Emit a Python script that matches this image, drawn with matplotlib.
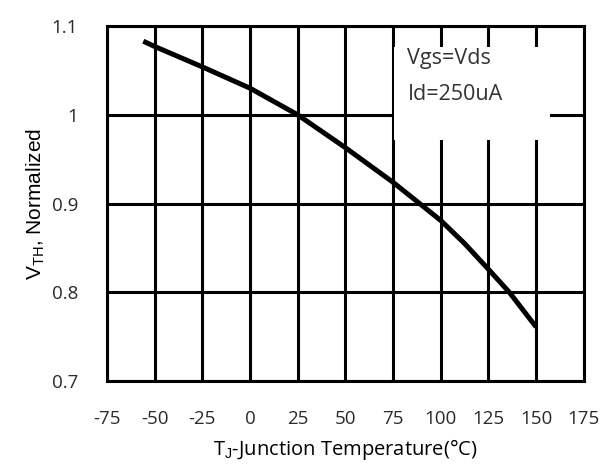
import matplotlib
matplotlib.use("Agg")
import matplotlib.pyplot as plt
from matplotlib.patches import Rectangle

# curve
temps = [-56, -50, -25, 0, 25, 50, 75, 100, 112.5, 125, 136, 150]
vth = [1.083, 1.077, 1.054, 1.030, 1.000, 0.963, 0.924, 0.881, 0.855, 0.826, 0.800, 0.761]

xticks = [-75, -50, -25, 0, 25, 50, 75, 100, 125, 150, 175]
yticks = [0.7, 0.8, 0.9, 1.0, 1.1]
ytick_labels = ["0.7", "0.8", "0.9", "1", "1.1"]

plt.rcParams['font.family'] = ['Open Sans', 'DejaVu Sans']
plt.rcParams['axes.unicode_minus'] = False
plt.rcParams['mathtext.fontset'] = 'custom'
plt.rcParams['mathtext.rm'] = 'Liberation Sans'

fig = plt.figure(figsize=(6.05, 4.66), dpi=100)
ax = fig.add_axes([0.177, 0.182, 0.788, 0.762])

ax.plot(temps, vth, color='black', lw=3.6, solid_capstyle='butt', zorder=4)

ax.set_xlim(-75, 175)
ax.set_ylim(0.7, 1.1)
ax.set_xticks(xticks)
ax.set_yticks(yticks)
ax.set_yticklabels(ytick_labels)
ax.tick_params(length=0, labelsize=13.5, colors='#2a2a2a')
ax.tick_params(axis='x', pad=21)
ax.tick_params(axis='y', pad=21)
ax.grid(True, color='black', lw=2.2, zorder=1)
ax.set_axisbelow(True)
for s in ax.spines.values():
    s.set_linewidth(2.2)
    s.set_zorder(2)

# white patch behind the annotation, it cuts the grid lines
ax.add_patch(Rectangle((75.5, 0.9716), 82, 0.1047, facecolor='white',
                       edgecolor='none', zorder=3))
ax.text(82.5, 1.063, "Vgs=Vds", fontsize=15.5, color='#333333', va='center', zorder=5)
ax.text(82.5, 1.023, "Id=250uA", fontsize=15.5, color='#333333', va='center', zorder=5)

ax.set_xlabel("T$_\\mathrm{J}$-Junction Temperature(°C)", fontsize=14.5, labelpad=6)
ax.set_ylabel("V$_\\mathrm{TH}$, Normalized", fontsize=15, family='Liberation Sans', labelpad=3)

fig.savefig("out.png", dpi=100)
